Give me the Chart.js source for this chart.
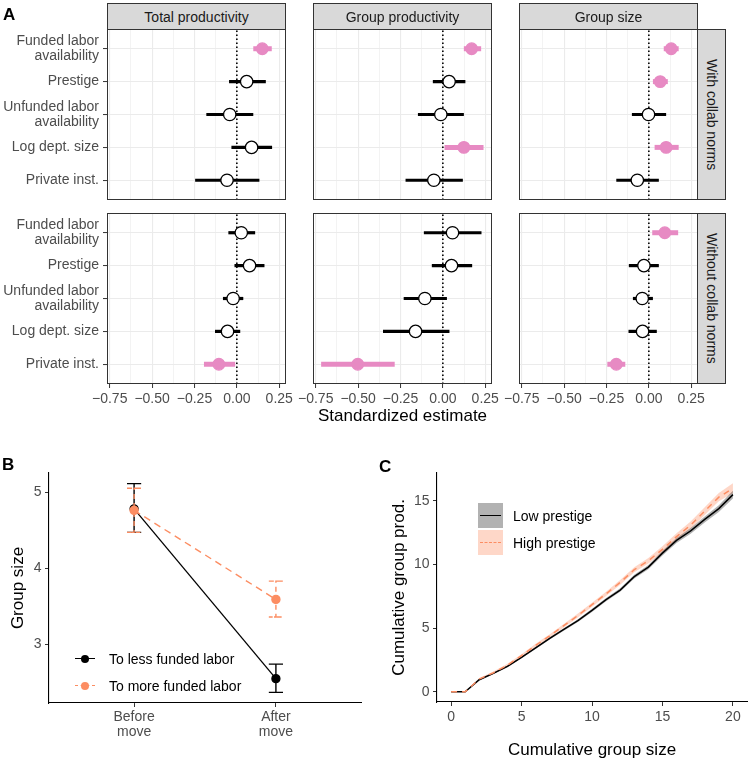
<!DOCTYPE html>
<html>
<head>
<meta charset="utf-8">
<script src="https://cdn.jsdelivr.net/npm/chart.js@4.4.0/dist/chart.umd.min.js"></script>
<style>
  body { margin: 0; background: #fff; font-family: "Liberation Sans", Arial, Helvetica, sans-serif; }
  #fig { position: relative; width: 750px; height: 762px; overflow: hidden; background: #fff; }
  #fig canvas { position: absolute; }
  .txt { position: absolute; white-space: nowrap; }
  .letter { font-weight: bold; font-size: 17px; line-height: 17px; }
  .strip { position: absolute; box-sizing: border-box; background: #d9d9d9; border: 1px solid #333;
           color: #1a1a1a; font-size: 14px; display: flex; align-items: center; justify-content: center; }
  .strip.side { writing-mode: vertical-rl; }
  .key { position: absolute; }
</style>
</head>
<body>
<div id="fig"></div>
<script>
// ---- data: panel A (standardized estimates, rows top to bottom) ----
const terms = [['Funded labor', 'availability'], ['Prestige'], ['Unfunded labor', 'availability'],
               ['Log dept. size'], ['Private inst.']];
const outcomes = ['Total productivity', 'Group productivity', 'Group size'];
const norms = ['With collab norms', 'Without collab norms'];
const estTicks = [-0.75, -0.5, -0.25, 0, 0.25];
const estMinor = [-0.625, -0.375, -0.125, 0.125];

const totalWithEst = [0.15, 0.058, -0.042, 0.087, -0.058];
const totalWithLo  = [0.097, -0.046, -0.18, -0.032, -0.246];
const totalWithHi  = [0.206, 0.171, 0.097, 0.208, 0.133];
const groupWithEst = [0.17, 0.037, -0.012, 0.124, -0.053];
const groupWithLo  = [0.124, -0.059, -0.147, 0.01, -0.22];
const groupWithHi  = [0.226, 0.133, 0.124, 0.24, 0.118];
const sizeWithEst  = [0.132, 0.067, -0.002, 0.102, -0.068];
const sizeWithLo   = [0.088, 0.024, -0.1, 0.034, -0.192];
const sizeWithHi   = [0.176, 0.112, 0.102, 0.176, 0.059];

const totalWithoutEst = [0.026, 0.075, -0.022, -0.055, -0.106];
const totalWithoutLo  = [-0.05, -0.014, -0.082, -0.129, -0.194];
const totalWithoutHi  = [0.108, 0.163, 0.038, 0.02, -0.01];
const groupWithoutEst = [0.057, 0.051, -0.106, -0.161, -0.502];
const groupWithoutLo  = [-0.112, -0.065, -0.231, -0.353, -0.718];
const groupWithoutHi  = [0.228, 0.173, 0.024, 0.039, -0.284];
const sizeWithoutEst  = [0.094, -0.029, -0.039, -0.037, -0.192];
const sizeWithoutLo   = [0.02, -0.118, -0.094, -0.12, -0.245];
const sizeWithoutHi   = [0.173, 0.059, 0.024, 0.047, -0.139];

// ---- data: panel B ----
const moveLabels = [['Before', 'move'], ['After', 'move']];
const moveGroups = ['To less funded labor', 'To more funded labor'];
const lessMean = [4.78, 2.55];
const lessLo   = [4.47, 2.37];
const lessHi   = [5.11, 2.74];
const moreMean = [4.76, 3.59];
const moreLo   = [4.47, 3.36];
const moreHi   = [5.05, 3.83];

// ---- data: panel C ----
const prestigeGroups = ['Low prestige', 'High prestige'];
const cumSize    = [0, 1, 2, 3, 4, 5, 6, 7, 8, 9, 10, 11, 12, 13, 14, 15, 16, 17, 18, 19, 20];
const lowProd    = [0, 0, 0.95, 1.45, 2.0, 2.7, 3.45, 4.2, 4.9, 5.6, 6.4, 7.25, 8.0, 9.05, 9.8, 10.9, 11.9, 12.65, 13.55, 14.4, 15.5];
const lowProdLo  = [0, 0, 0.9, 1.4, 1.94, 2.63, 3.37, 4.11, 4.8, 5.49, 6.28, 7.12, 7.86, 8.9, 9.64, 10.72, 11.7, 12.43, 13.31, 14.14, 15.2];
const lowProdHi  = [0, 0, 1.0, 1.5, 2.06, 2.77, 3.53, 4.29, 5.0, 5.71, 6.52, 7.38, 8.14, 9.2, 9.96, 11.08, 12.1, 12.87, 13.79, 14.66, 15.8];
const highProd   = [0, 0, 1.0, 1.5, 2.1, 2.85, 3.65, 4.4, 5.2, 6.0, 6.85, 7.7, 8.6, 9.6, 10.3, 11.2, 12.2, 13.1, 14.2, 15.3, 16.0];
const highProdLo = [0, 0, 0.92, 1.41, 2.0, 2.74, 3.53, 4.27, 5.06, 5.85, 6.69, 7.53, 8.42, 9.4, 10.08, 10.96, 11.94, 12.82, 13.9, 14.97, 15.6];
const highProdHi = [0, 0, 1.08, 1.59, 2.2, 2.96, 3.77, 4.53, 5.34, 6.15, 7.01, 7.87, 8.78, 9.8, 10.52, 11.44, 12.46, 13.38, 14.5, 15.63, 16.4];

const PINK = '#E78AC3';
const ORANGE = '#FC8D62';
const GRID = '#ebebeb';
const TICKTXT = '#4d4d4d';

Chart.defaults.font.family = '"Liberation Sans", Arial, Helvetica, sans-serif';
Chart.defaults.animation = false;
Chart.defaults.events = [];
Chart.defaults.plugins.legend.display = false;
Chart.defaults.plugins.tooltip.enabled = false;

const fig = document.getElementById('fig');

function addCanvas(left, top, w, h) {
    const c = document.createElement('canvas');
    c.width = w;
    c.height = h;
    Object.assign(c.style, { left: left + 'px', top: top + 'px', width: w + 'px', height: h + 'px' });
    fig.appendChild(c);
    return c;
}

function addText(cls, text, css) {
    const d = document.createElement('div');
    d.className = cls;
    d.textContent = text;
    Object.assign(d.style, css);
    fig.appendChild(d);
    return d;
}

// lock an axis box to a given size so panels line up
const fixBox = (w, h) => s => {
    if (w !== null) s.width = w;
    if (h !== null) s.height = h;
    s.paddingLeft = s.paddingRight = s.paddingTop = s.paddingBottom = 0;
};

const setTicks = vals => s => { s.ticks = vals.map(v => ({ value: v })); };

const fmtEst = v => (v < 0 ? '\u2212' : '') + Math.abs(v).toFixed(2);
const isMajor = v => estTicks.some(t => Math.abs(t - v) < 1e-6);

// ggplot-style panel border
const frame = {
    id: 'frame',
    afterDraw(chart) {
        const { ctx, chartArea: a } = chart;
        ctx.save();
        ctx.strokeStyle = '#333';
        ctx.lineWidth = 1;
        ctx.strokeRect(a.left + 0.5, a.top + 0.5, a.right - a.left - 1, a.bottom - a.top - 1);
        ctx.restore();
    }
};

// ---------------- Panel A ----------------
const colX = [[107, 286], [313, 492], [519, 698]];
const rowY = [[29, 200], [213, 384]];

const facets = [
    { row: 0, col: 0, est: totalWithEst, lo: totalWithLo, hi: totalWithHi },
    { row: 0, col: 1, est: groupWithEst, lo: groupWithLo, hi: groupWithHi },
    { row: 0, col: 2, est: sizeWithEst, lo: sizeWithLo, hi: sizeWithHi },
    { row: 1, col: 0, est: totalWithoutEst, lo: totalWithoutLo, hi: totalWithoutHi },
    { row: 1, col: 1, est: groupWithoutEst, lo: groupWithoutLo, hi: groupWithoutHi },
    { row: 1, col: 2, est: sizeWithoutEst, lo: sizeWithoutLo, hi: sizeWithoutHi }
];

function makeFacet(f) {
    const [x0, x1] = colX[f.col];
    const [y0, y1] = rowY[f.row];
    const yW = f.col === 0 ? x0 : 0;
    const padL = f.col === 0 ? 0 : 20;
    const padR = 20;
    const xH = f.row === 1 ? 40 : 0;
    const cv = addCanvas(x0 - yW - padL, y0, (x1 - x0) + yW + padL + padR, (y1 - y0) + xH);

    const sig = f.est.map((e, i) => f.lo[i] > 0 || f.hi[i] < 0);
    const datasets = [{
        data: [{ x: 0, y: 0.4 }, { x: 0, y: 5.6 }],
        showLine: true, borderColor: '#000', borderWidth: 1.6, borderDash: [1.6, 2.4], pointRadius: 0
    }];
    f.est.forEach((e, i) => {
        datasets.push({
            data: [{ x: f.lo[i], y: 5 - i }, { x: f.hi[i], y: 5 - i }],
            showLine: true, borderColor: sig[i] ? PINK : '#000', borderWidth: sig[i] ? 5 : 3.2, pointRadius: 0
        });
    });
    datasets.push({
        data: f.est.map((e, i) => ({ x: e, y: 5 - i })),
        pointRadius: f.est.map((e, i) => sig[i] ? 5.8 : 6.2),
        pointBackgroundColor: sig.map(s => s ? PINK : '#fff'),
        pointBorderColor: sig.map(s => s ? PINK : '#000'),
        pointBorderWidth: 1.3
    });
    // draw in order: dotted zero line, bars, points on top
    datasets.forEach((d, i) => { d.order = datasets.length - i; });

    new Chart(cv, {
        type: 'scatter',
        data: { datasets },
        options: {
            responsive: false,
            devicePixelRatio: 1,
            layout: { autoPadding: false, padding: { left: padL, right: padR, top: 0, bottom: 0 } },
            scales: {
                x: {
                    type: 'linear', min: -0.766, max: 0.29,
                    afterBuildTicks: setTicks(estTicks.concat(estMinor).sort((a, b) => a - b)),
                    afterFit: fixBox(null, xH),
                    border: { display: false },
                    grid: {
                        color: GRID,
                        lineWidth: c => isMajor(c.tick.value) ? 1.1 : 0.6,
                        drawTicks: f.row === 1, tickLength: 4,
                        tickColor: c => isMajor(c.tick.value) ? '#333' : 'rgba(0,0,0,0)',
                        tickWidth: 1
                    },
                    ticks: {
                        display: f.row === 1, padding: 3, color: TICKTXT, font: { size: 14 },
                        maxRotation: 0, autoSkip: false,
                        callback: v => isMajor(v) ? fmtEst(v) : ''
                    }
                },
                y: {
                    type: 'linear', min: 0.4, max: 5.6,
                    afterBuildTicks: setTicks([1, 2, 3, 4, 5]),
                    afterFit: fixBox(yW, null),
                    border: { display: false },
                    grid: { color: GRID, lineWidth: 1.1, drawTicks: f.col === 0, tickLength: 4, tickColor: '#333', tickWidth: 1 },
                    ticks: {
                        display: f.col === 0, padding: 4, color: TICKTXT,
                        font: { size: 14, lineHeight: 1.07 },
                        callback: v => terms[5 - v]
                    }
                }
            }
        },
        plugins: [frame]
    });
}

facets.forEach(makeFacet);

outcomes.forEach((name, c) => {
    const [x0, x1] = colX[c];
    addText('strip', name, { left: x0 + 'px', top: '3px', width: (x1 - x0) + 'px', height: '27px' });
});
norms.forEach((name, r) => {
    const [y0, y1] = rowY[r];
    addText('strip side', name, { left: '697px', top: y0 + 'px', width: '29px', height: (y1 - y0) + 'px' });
});
addText('txt', 'Standardized estimate', {
    left: '107px', width: '591px', top: '406px', fontSize: '17px', lineHeight: '20px',
    textAlign: 'center', color: '#000'
});
addText('txt letter', 'A', { left: '3px', top: '6px' });

// ---------------- Panel B ----------------
function errorPath(p, lo, hi, w) {
    return [{ x: p - w, y: hi }, { x: p + w, y: hi }, { x: p, y: hi },
            { x: p, y: lo }, { x: p - w, y: lo }, { x: p + w, y: lo }];
}

const bDatasets = [];
[0, 1].forEach(i => bDatasets.push({
    data: errorPath(i + 1, lessLo[i], lessHi[i], 0.05),
    showLine: true, borderColor: '#000', borderWidth: 1.4, pointRadius: 0, order: 6
}));
bDatasets.push({
    data: lessMean.map((m, i) => ({ x: i + 1, y: m })),
    showLine: true, borderColor: '#000', borderWidth: 1.3,
    pointRadius: 4, pointBackgroundColor: '#000', pointBorderColor: '#000', order: 5
});
[0, 1].forEach(i => bDatasets.push({
    data: errorPath(i + 1, moreLo[i], moreHi[i], 0.05),
    showLine: true, borderColor: ORANGE, borderWidth: 1.4, borderDash: [5, 4], pointRadius: 0, order: 4
}));
bDatasets.push({
    data: moreMean.map((m, i) => ({ x: i + 1, y: m })),
    showLine: true, borderColor: ORANGE, borderWidth: 1.4, borderDash: [7, 5],
    pointRadius: 4, pointBackgroundColor: ORANGE, pointBorderColor: ORANGE, order: 3
});

new Chart(addCanvas(0, 440, 370, 322), {
    type: 'scatter',
    data: { datasets: bDatasets },
    options: {
        responsive: false,
        devicePixelRatio: 1,
        layout: { autoPadding: false, padding: { left: 0, right: 9, top: 33, bottom: 0 } },
        scales: {
            x: {
                type: 'linear', min: 0.4, max: 2.6,
                afterBuildTicks: setTicks([1, 2]),
                afterFit: fixBox(null, 59),
                border: { display: true, color: '#000', width: 1.1 },
                grid: { display: true, drawOnChartArea: false, drawTicks: true, tickLength: 4, tickColor: '#333' },
                ticks: { padding: 3, color: TICKTXT, font: { size: 14, lineHeight: 1.07 }, maxRotation: 0,
                         callback: v => moveLabels[v - 1] }
            },
            y: {
                type: 'linear', min: 2.23, max: 5.25,
                afterBuildTicks: setTicks([3, 4, 5]),
                afterFit: fixBox(49, null),
                border: { display: true, color: '#000', width: 1.1 },
                grid: { display: true, drawOnChartArea: false, drawTicks: true, tickLength: 4, tickColor: '#333' },
                ticks: { padding: 3.5, color: TICKTXT, font: { size: 14 } },
                title: { display: true, text: 'Group size', color: '#000', font: { size: 17 }, padding: { top: 8, bottom: 0 } }
            }
        }
    }
});

// legend for B
const bKeys = [{ color: '#000', dash: 'solid' }, { color: ORANGE, dash: 'dashed' }];
moveGroups.forEach((name, i) => {
    const y = [659, 686][i];
    const line = document.createElement('div');
    line.className = 'key';
    Object.assign(line.style, { left: '75px', top: (y - 0.7) + 'px', width: '20px', height: '0',
        borderTop: '1.4px ' + bKeys[i].dash + ' ' + bKeys[i].color });
    fig.appendChild(line);
    const dot = document.createElement('div');
    dot.className = 'key';
    Object.assign(dot.style, { left: '81px', top: (y - 4) + 'px', width: '8px', height: '8px',
        borderRadius: '50%', background: bKeys[i].color });
    fig.appendChild(dot);
    addText('txt', name, { left: '109px', top: (y - 9) + 'px', fontSize: '14px', lineHeight: '18px', color: '#000' });
});
addText('txt letter', 'B', { left: '2px', top: '456px' });

// ---------------- Panel C ----------------
const pts = vals => cumSize.map((x, i) => ({ x, y: vals[i] }));
const band = { borderColor: 'rgba(0,0,0,0)', borderWidth: 0, pointRadius: 0, tension: 0, order: 3 };
const GRAYBAND = 'rgba(0,0,0,0.3)';
const PEACHBAND = 'rgba(252,141,98,0.35)';

new Chart(addCanvas(370, 440, 380, 322), {
    type: 'line',
    data: {
        datasets: [
            Object.assign({ data: pts(lowProdLo), fill: false }, band),
            Object.assign({ data: pts(lowProdHi), fill: 0, backgroundColor: GRAYBAND }, band),
            Object.assign({ data: pts(highProdLo), fill: false }, band),
            Object.assign({ data: pts(highProdHi), fill: 2, backgroundColor: PEACHBAND }, band),
            { data: pts(lowProd), borderColor: '#000', borderWidth: 1.5, pointRadius: 0, fill: false, order: 2 },
            { data: pts(highProd), borderColor: ORANGE, borderWidth: 1.5, borderDash: [6, 5], pointRadius: 0, fill: false, order: 1 }
        ]
    },
    options: {
        responsive: false,
        devicePixelRatio: 1,
        layout: { autoPadding: false, padding: { left: 0, right: 3, top: 33, bottom: 0 } },
        scales: {
            x: {
                type: 'linear', min: -1, max: 21,
                afterBuildTicks: setTicks([0, 5, 10, 15, 20]),
                afterFit: fixBox(null, 60),
                border: { display: true, color: '#000', width: 1.1 },
                grid: { display: true, drawOnChartArea: false, drawTicks: true, tickLength: 4, tickColor: '#333' },
                ticks: { padding: 3, color: TICKTXT, font: { size: 14 }, maxRotation: 0 },
                title: { display: true, text: 'Cumulative group size', color: '#000', font: { size: 17 }, padding: { top: 0, bottom: 1 } }
            },
            y: {
                type: 'linear', min: -0.8, max: 17.2,
                afterBuildTicks: setTicks([0, 5, 10, 15]),
                afterFit: fixBox(67, null),
                border: { display: true, color: '#000', width: 1.1 },
                grid: { display: true, drawOnChartArea: false, drawTicks: true, tickLength: 4, tickColor: '#333' },
                ticks: { padding: 3.5, color: TICKTXT, font: { size: 14 } },
                title: { display: true, text: 'Cumulative group prod.', color: '#000', font: { size: 17 }, padding: { top: 19, bottom: 0 } }
            }
        }
    }
});

// legend for C
const cKeys = [{ fill: GRAYBAND, color: '#000', dash: 'solid' }, { fill: PEACHBAND, color: ORANGE, dash: 'dashed' }];
prestigeGroups.forEach((name, i) => {
    const top = [503, 530][i];
    const box = document.createElement('div');
    box.className = 'key';
    Object.assign(box.style, { left: '478px', top: top + 'px', width: '25px', height: '25px', background: cKeys[i].fill });
    fig.appendChild(box);
    const line = document.createElement('div');
    line.className = 'key';
    Object.assign(line.style, { left: '480px', top: (top + 12) + 'px', width: '21px', height: '0',
        borderTop: '1.5px ' + cKeys[i].dash + ' ' + cKeys[i].color });
    fig.appendChild(line);
    addText('txt', name, { left: '513px', top: (top + 3.5) + 'px', fontSize: '14px', lineHeight: '18px', color: '#000' });
});
addText('txt letter', 'C', { left: '379px', top: '458px' });
</script>
</body>
</html>
